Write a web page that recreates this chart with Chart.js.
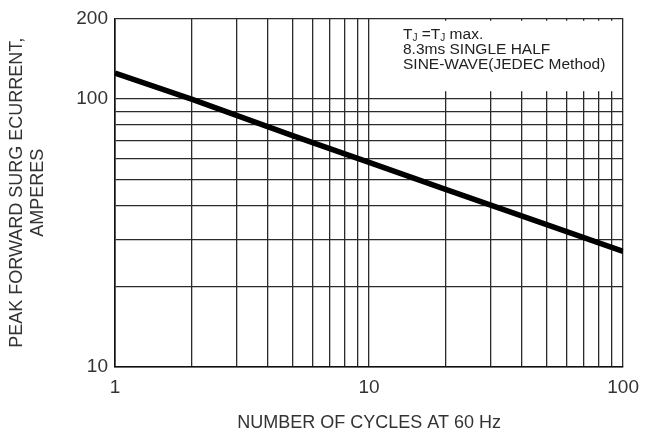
<!DOCTYPE html>
<html>
<head>
<meta charset="utf-8">
<script src="https://cdn.jsdelivr.net/npm/chart.js@4"></script>
<style>
  html, body { margin: 0; padding: 0; background: #fff; }
  #wrap { width: 648px; height: 432px; }
</style>
</head>
<body>
<div id="wrap"><canvas id="myChart"></canvas></div>
<script>
// values (log-log)
const cycles = [1, 2, 5, 10, 20, 50, 100];
const surgeAmps = [125, 100, 73, 58, 46, 34, 27];

const xTicks = [1, 2, 3, 4, 5, 6, 7, 8, 9, 10, 20, 30, 40, 50, 60, 70, 80, 90, 100];
const xLabels = [1, 10, 100];
const yTicks = [10, 20, 30, 40, 50, 60, 70, 80, 90, 100, 200];
const yLabels = [10, 100, 200];

const FONT = "'Liberation Sans', Arial, sans-serif";

const points = cycles.map((c, i) => ({ x: c, y: surgeAmps[i] }));

// white box with the test conditions, top right of the plot
const noteBox = {
    id: 'noteBox',
    afterDatasetsDraw(chart) {
        const ctx = chart.ctx;
        const x = chart.scales.x;
        const y = chart.scales.y;
        const left = x.getPixelForValue(14.5);
        const right = x.getPixelForValue(97);
        const top = y.getPixelForValue(196);
        const bottom = y.getPixelForValue(107);
        ctx.save();
        ctx.fillStyle = '#fff';
        ctx.fillRect(left, top, right - left, bottom - top);

        ctx.fillStyle = '#222';
        ctx.textBaseline = 'alphabetic';
        ctx.textAlign = 'left';
        let tx = 403;
        const big = '15.5px ' + FONT;
        const small = '10px ' + FONT;
        const parts = [['T', big, 0], ['J', small, 2], [' =T', big, 0], ['J', small, 2], [' max.', big, 0]];
        parts.forEach(p => {
            ctx.font = p[1];
            ctx.fillText(p[0], tx, 39 + p[2]);
            tx += ctx.measureText(p[0]).width;
        });
        ctx.font = big;
        ctx.fillText('8.3ms SINGLE HALF', 403, 54);
        ctx.fillText('SINE-WAVE(JEDEC Method)', 403, 69);
        ctx.restore();
    }
};

const ctx = document.getElementById('myChart');
new Chart(ctx, {
    type: 'line',
    data: {
        datasets: [{
            data: points,
            borderColor: '#000',
            borderWidth: 5.5,
            pointRadius: 0,
            tension: 0,
            fill: false
        }]
    },
    options: {
        responsive: true,
        maintainAspectRatio: false,
        animation: false,
        layout: { padding: { top: 15, right: 23, left: 0, bottom: 0 } },
        plugins: {
            legend: { display: false },
            tooltip: { enabled: false }
        },
        scales: {
            x: {
                type: 'logarithmic',
                min: 1,
                max: 100,
                afterBuildTicks: s => { s.ticks = xTicks.map(v => ({ value: v })); },
                afterFit: s => { s.height = 65; },
                ticks: {
                    autoSkip: false,
                    maxRotation: 0,
                    padding: 9,
                    color: '#333',
                    font: { family: FONT, size: 19 },
                    callback: v => xLabels.includes(v) ? String(v) : ''
                },
                grid: { color: '#2a2a2a', lineWidth: 1.3, drawTicks: false },
                border: { color: '#111', width: 1.6 },
                title: {
                    display: true,
                    text: 'NUMBER OF CYCLES AT 60 Hz',
                    color: '#333',
                    font: { family: FONT, size: 18, lineHeight: 1 },
                    padding: 0
                }
            },
            y: {
                type: 'logarithmic',
                min: 10,
                max: 200,
                afterBuildTicks: s => { s.ticks = yTicks.map(v => ({ value: v })); },
                afterFit: s => { s.width = 115; },
                ticks: {
                    autoSkip: false,
                    padding: 7,
                    color: '#333',
                    font: { family: FONT, size: 19 },
                    callback: v => yLabels.includes(v) ? String(v) : ''
                },
                grid: { color: '#2a2a2a', lineWidth: 1.3, drawTicks: false },
                border: { color: '#111', width: 1.6 },
                title: {
                    display: true,
                    text: ['PEAK FORWARD SURG ECURRENT,', 'AMPERES'],
                    color: '#333',
                    font: { family: FONT, size: 18, lineHeight: 1.2 },
                    padding: { top: 6, bottom: 0 }
                }
            }
        }
    },
    plugins: [noteBox]
});
</script>
</body>
</html>
